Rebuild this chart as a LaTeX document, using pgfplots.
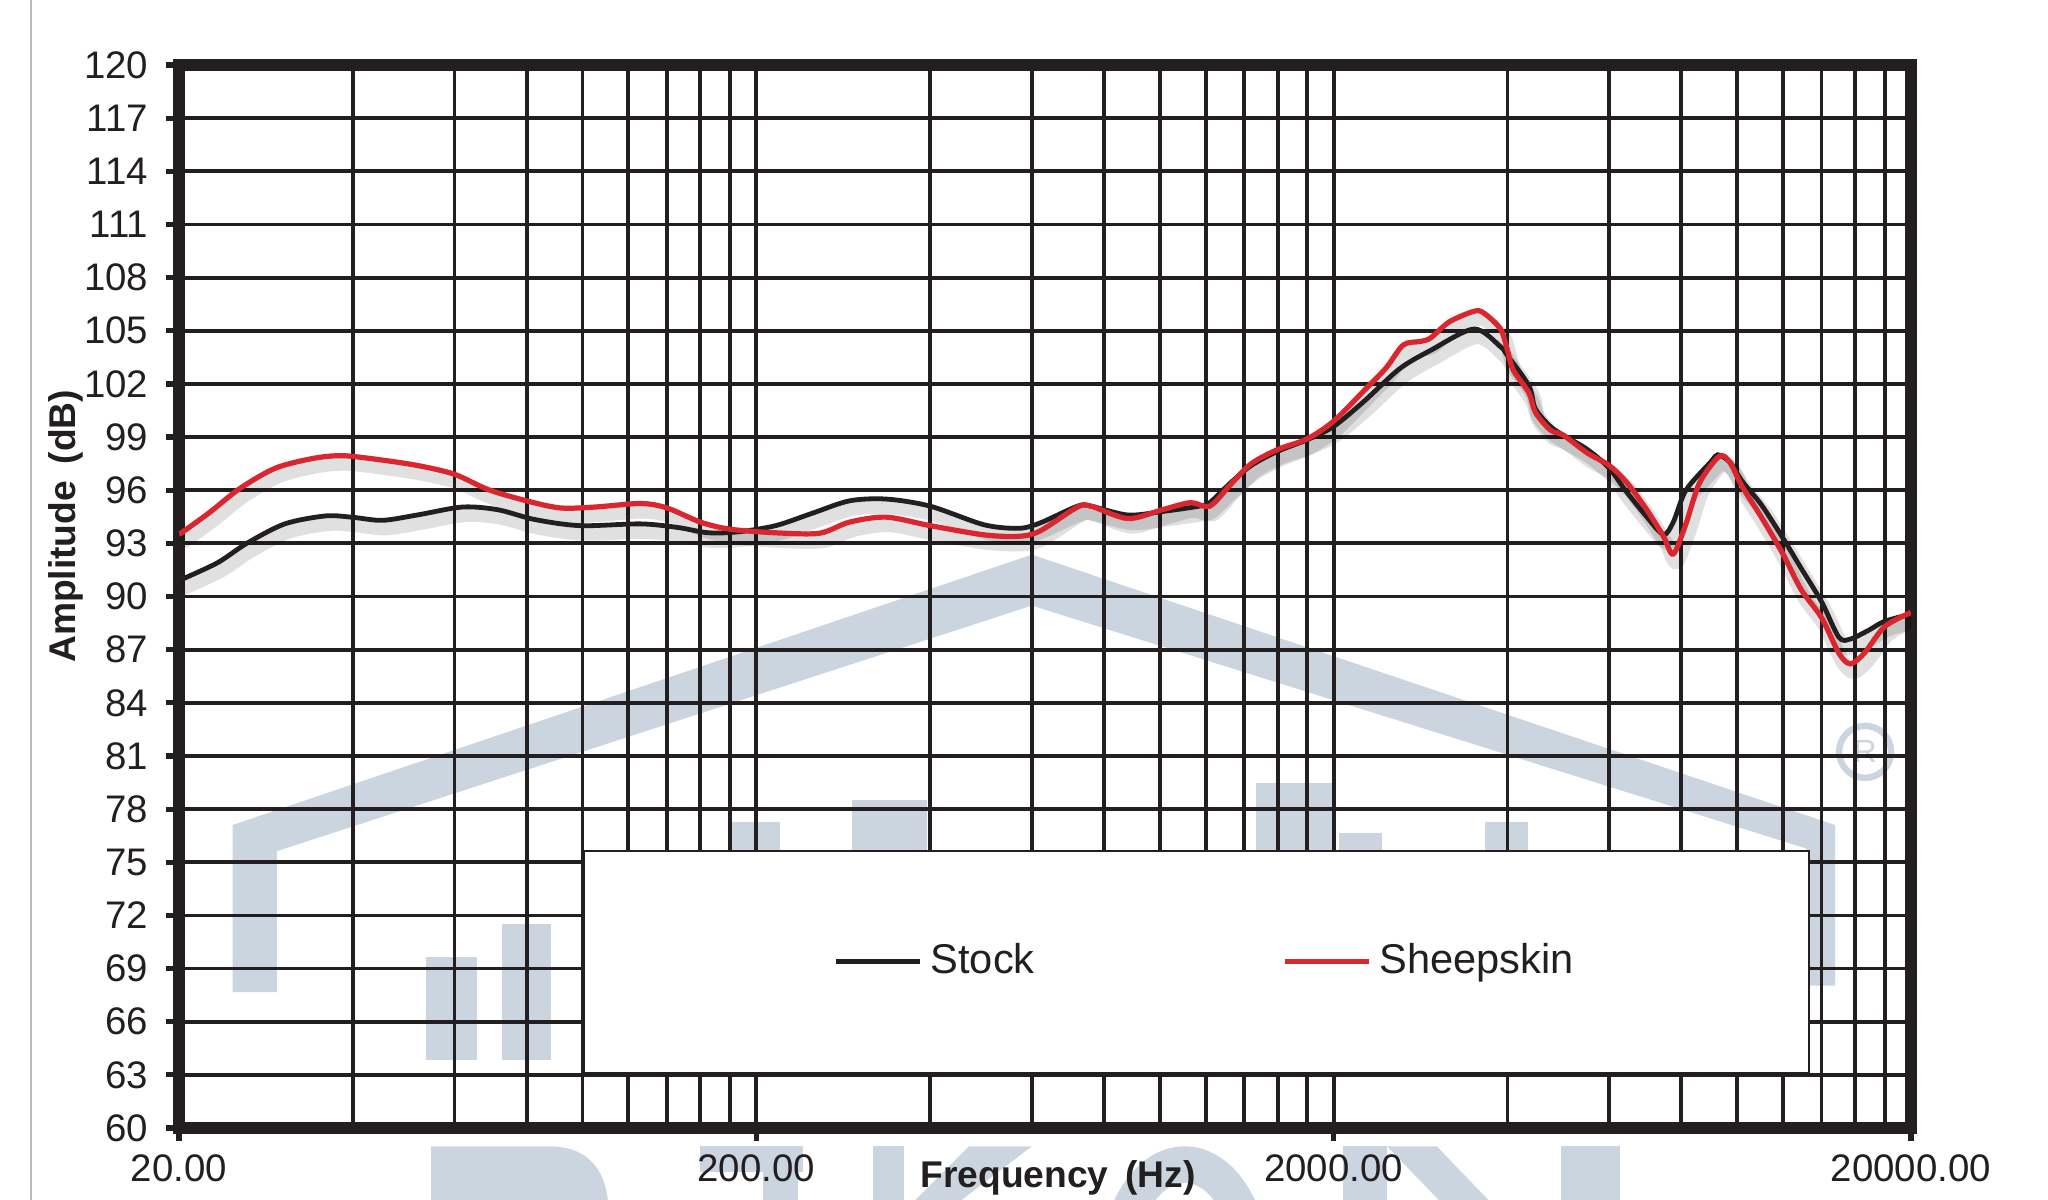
\documentclass[border=0pt]{standalone}
\usepackage{fontspec}
\setmainfont{Liberation Sans}
\usepackage{pgfplots}
\usepackage{pgfplotstable}
\pgfplotsset{compat=1.18}
\definecolor{gridk}{RGB}{35,31,32}
\definecolor{redc}{RGB}{218,38,46}
\definecolor{wm}{RGB}{203,213,224}

\pgfplotstableread{
f y
20 90.9
23.3 91.9
26.2 93.0
30.5 94.1
35.9 94.55
40 94.47
45 94.3
51.7 94.6
61.9 95.05
71.3 94.9
82.5 94.35
99 94.0
126 94.1
146 93.9
165 93.6
186 93.65
216 94.0
250 94.7
290 95.4
336 95.5
400 95.1
496 94.05
570 93.85
620 94.15
720 95.1
760 95.1
880 94.6
1010 94.8
1170 95.1
1220 95.3
1324 96.4
1440 97.4
1600 98.2
1800 98.85
2000 99.6
2254 101.0
2600 102.85
2946 103.9
3500 105.1
3890 104.1
4000 103.6
4356 101.9
4470 100.6
4745 99.6
5000 99.1
5500 98.3
6000 97.25
6400 96.0
6970 94.5
7450 93.5
7750 94.2
8150 96.0
9000 97.6
9250 98.0
9700 97.6
10200 96.5
11000 95.2
12000 93.3
12900 91.6
14000 89.7
15000 87.7
15700 87.6
16900 88.1
18000 88.6
20000 89.0
}\stock

\pgfplotstableread{
f y
20 93.5
22.5 94.7
25.5 96.1
29.4 97.25
34.2 97.8
38.3 97.95
43.6 97.76
51.7 97.4
60 96.9
68.6 96.04
80 95.4
91.5 95.0
105 95.05
126 95.25
140 95.0
160 94.2
180 93.8
215 93.6
257 93.57
290 94.2
336 94.48
400 94.0
496 93.48
570 93.4
620 93.7
720 95.05
760 95.1
880 94.4
1010 94.9
1130 95.3
1220 95.1
1324 96.3
1440 97.5
1600 98.3
1800 98.9
2000 99.9
2254 101.6
2464 102.9
2640 104.2
2830 104.4
2946 104.6
3170 105.5
3500 106.1
3640 106.0
3890 105.1
4000 103.9
4090 102.8
4356 101.5
4470 100.4
4745 99.4
5000 99.1
5500 98.1
6000 97.4
6450 96.4
6970 94.9
7450 93.4
7750 92.4
8150 94.1
8600 96.4
9300 97.9
9700 97.6
10200 96.2
11000 94.5
12000 92.4
12900 90.4
14000 88.8
15000 86.8
15700 86.2
16600 86.8
18000 88.3
20000 89.1
}\sheep

\begin{document}
\begin{tikzpicture}
\useasboundingbox (-44.75pt,-18pt) rectangle (467.25pt,282pt);
\fill[white] (-44.75pt,-18pt) rectangle (467.25pt,282pt);
\draw[gray!55, line width=0.4pt] (-37pt,-18pt) -- (-37pt,282pt);
% watermark (decoration)
\begin{scope}[x=0.3265pt,y=-0.3265pt,xshift=-44.73pt,yshift=282.1pt]
\fill[wm] (178,760) -- (178,632) -- (790,425) -- (1405,632) -- (1405,755) -- (1383,755) -- (1383,650) -- (790,464) -- (212,652) -- (212,760) -- cycle;
\fill[wm] (326,733) rectangle (365,812);
\fill[wm] (384,708) rectangle (422,812);
\fill[wm] (560,630) rectangle (597,660);
\fill[wm] (652,613) rectangle (710,660);
\fill[wm] (962,600) rectangle (1021,660);
\fill[wm] (1025,638) rectangle (1058,660);
\fill[wm] (1137,630) rectangle (1170,660);
\draw[wm, line width=1.6pt] (1428,576) circle [radius=6.5pt];
\node[wm, font=\fontsize{8}{8}\selectfont] at (1428,576) {R};
% letter tops at the bottom
\fill[wm] (330,878) -- (420,878) .. controls (452,878) and (466,898) .. (466,930) -- (330,930) -- cycle;
\fill[wm] (536,878) rectangle (615,898);
\fill[wm] (584,878) rectangle (611,930);
\fill[wm] (668,878) rectangle (692,930);
\fill[wm] (742,878) -- (790,878) -- (722,930) -- (690,930) -- cycle;
\fill[wm, even odd rule] (907,968) ellipse [x radius=64, y radius=90] (907,968) ellipse [x radius=36, y radius=62];
\fill[wm] (1028,878) rectangle (1062,930);
\fill[wm] (1062,878) -- (1100,878) -- (1150,930) -- (1112,930) -- cycle;
\fill[wm] (1195,878) rectangle (1240,930);
\end{scope}
\begin{axis}[
  at={(0,0)}, anchor=south west,
  scale only axis, width=433pt, height=265.75pt,
  xmode=log, xmin=20, xmax=20000, ymin=60, ymax=120,
  xtick={20,200,2000,20000},
  xticklabels={20.00,200.00,2000.00,20000.00},
  minor xtick={40,60,80,100,120,140,160,180,400,600,800,1000,1200,1400,1600,1800,4000,6000,8000,10000,12000,14000,16000,18000},
  ytick={60,63,...,120},
  xmajorgrids, xminorgrids, ymajorgrids,
  major grid style={line width=0.95pt, gridk},
  minor grid style={line width=0.95pt, gridk},
  axis line style={line width=3pt, gridk},
  tick align=outside, xtick pos=bottom, ytick pos=left,
  major tick length=3.2pt, minor tick length=0pt,
  tick style={line width=1.3pt, gridk},
  ticklabel style={font=\fontsize{9.6}{11}\selectfont, text=gridk},
  /pgf/number format/assume math mode=true,
  yticklabel style={xshift=-1pt},
  xlabel={Frequency\hspace{0.45em}(Hz)},
  ylabel={Amplitude\hspace{0.45em}(dB)},
  label style={font=\fontsize{9.3}{11}\bfseries\selectfont, text=gridk},
  xlabel style={at={(axis description cs:0.5075,-0.0467)}, anchor=center},
  ylabel style={at={(axis description cs:-0.0656,0.566)}, anchor=center},
  legend style={draw=none, fill=none, at={(axis description cs:0.594,0.157)}, anchor=center,
    font=\fontsize{10.4}{12}\selectfont, text=gridk,
    /tikz/every even column/.append style={column sep=60pt}},
  legend columns=2,
  legend image code/.code={\draw[#1, line width=1.2pt] (0pt,0pt) -- (21pt,0pt);},
]
\draw[gridk, line width=0.6pt, fill=white] (axis cs:100.5,75.63) rectangle (axis cs:13320,63.1);
\addplot[forget plot, smooth, black, opacity=0.12, line width=3.5pt, yshift=-2pt, xshift=0.8pt] table[x=f,y=y] {\stock};
\addplot[forget plot, smooth, black, opacity=0.12, line width=3.5pt, yshift=-2pt, xshift=0.8pt] table[x=f,y=y] {\sheep};
\addplot[smooth, gridk, line width=1.2pt] table[x=f,y=y] {\stock};
\addlegendentry{Stock}
\addplot[smooth, redc, line width=1.3pt] table[x=f,y=y] {\sheep};
\addlegendentry{Sheepskin}
\end{axis}
\end{tikzpicture}
\end{document}
